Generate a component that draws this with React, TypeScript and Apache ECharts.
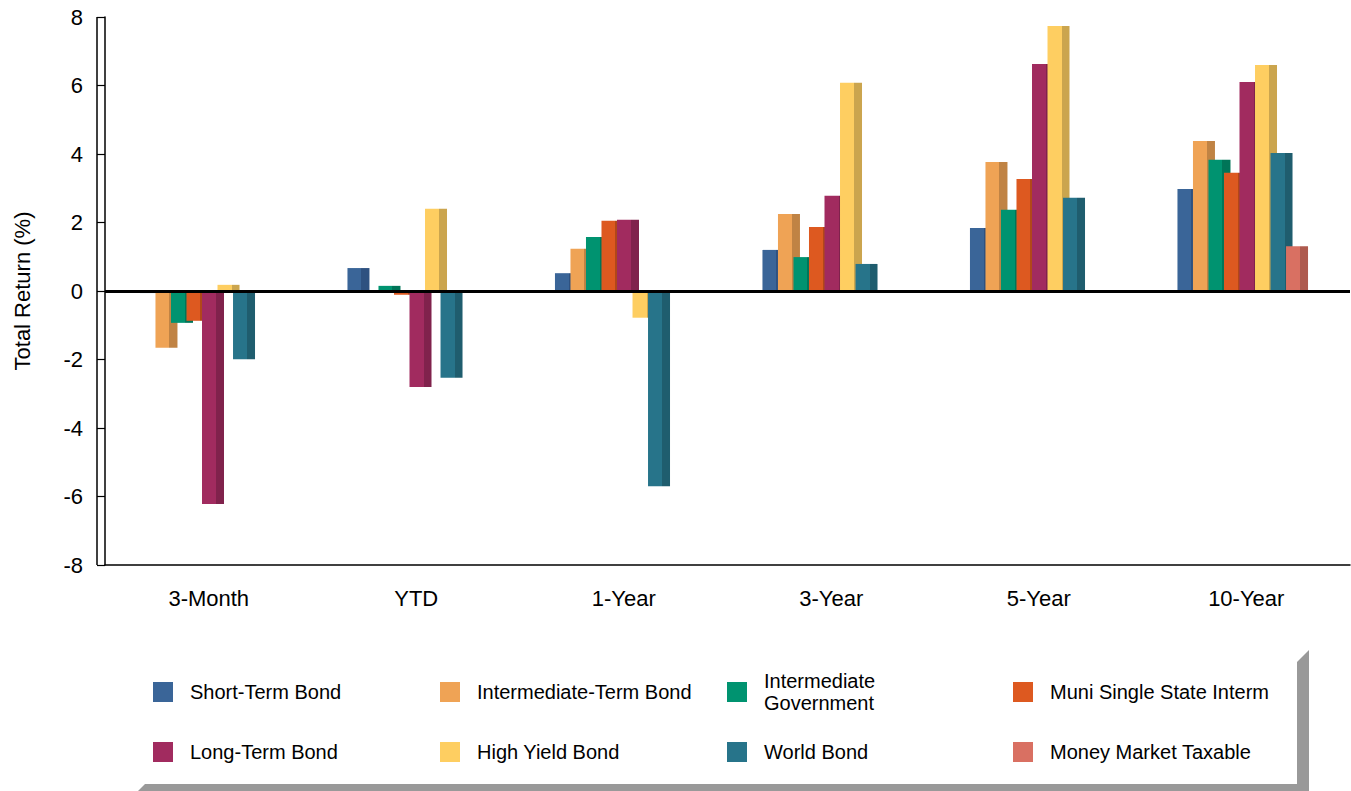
import React, { useEffect, useRef } from 'react';
import * as echarts from 'echarts';

const categories = ['3-Month', 'YTD', '1-Year', '3-Year', '5-Year', '10-Year'];
const yTicks = { min: -8, max: 8, interval: 2 };

const shortTerm = [-0.06, 0.67, 0.52, 1.2, 1.84, 2.98];
const intermediateTerm = [-1.66, -0.04, 1.23, 2.25, 3.77, 4.38];
const intermediateGov = [-0.93, 0.15, 1.58, 0.99, 2.37, 3.83];
const muniSingleState = [-0.87, -0.11, 2.05, 1.87, 3.27, 3.45];
const longTerm = [-6.22, -2.8, 2.08, 2.78, 6.63, 6.1];
const highYield = [0.18, 2.4, -0.78, 6.08, 7.74, 6.6];
const worldBond = [-1.99, -2.53, -5.7, 0.79, 2.72, 4.03];
const moneyMarket = [null, null, null, null, null, 1.31];

const seriesNames = [
  'Short-Term Bond',
  'Intermediate-Term Bond',
  'Intermediate Government',
  'Muni Single State Interm',
  'Long-Term Bond',
  'High Yield Bond',
  'World Bond',
  'Money Market Taxable',
];
const frontColors = ['#3A6598', '#EFA355', '#009370', '#DD5920', '#A12B5F', '#FECE61', '#27748A', '#D97062'];
const sideColors = ['#2E5180', '#C08344', '#007558', '#B14719', '#80224C', '#CBA54E', '#1F5D6E', '#AE5A4E'];

export default function App() {
  const ref = useRef<HTMLDivElement>(null);
  useEffect(() => {
    const chart = echarts.init(ref.current as HTMLDivElement, null, { renderer: 'svg' });
    const values = [shortTerm, intermediateTerm, intermediateGov, muniSingleState, longTerm, highYield, worldBond, moneyMarket];
    const font = 'Arial, "Liberation Sans", sans-serif';
    const legendPos = [
      [153, 681], [440, 681], [727, 670], [1013, 681],
      [153, 741], [440, 741], [727, 741], [1013, 741],
    ];
    const f = 14 / 22;
    const barSeries: any[] = seriesNames.map((name, i) => ({
      name,
      type: 'bar',
      data: values[i],
      barWidth: 22,
      barGap: '-29.5%',
      itemStyle: {
        color: new echarts.graphic.LinearGradient(0, 0, 1, 0, [
          { offset: 0, color: frontColors[i] },
          { offset: f, color: frontColors[i] },
          { offset: f, color: sideColors[i] },
          { offset: 1, color: sideColors[i] },
        ]),
      },
      ...(i === seriesNames.length - 1
        ? {
            markLine: {
              silent: true,
              symbol: 'none',
              label: { show: false },
              lineStyle: { color: '#000', width: 3, type: 'solid' },
              data: [{ yAxis: 0 }],
            },
          }
        : {}),
    }));
    // empty spacer column: keeps the bar cluster slightly left of the category centre, as in the original
    barSeries.push({
      name: 'spacer',
      type: 'bar',
      data: categories.map(() => null),
      barWidth: 13.5,
      barGap: '-29.5%',
      silent: true,
    });
    chart.setOption({
      animation: false,
      textStyle: { fontFamily: font },
      grid: { left: 105, right: 1, top: 17, bottom: 226, containLabel: false },
      xAxis: {
        type: 'category',
        data: categories,
        axisLine: { show: true, onZero: false, lineStyle: { color: '#000', width: 1.5 } },
        axisTick: { show: false },
        axisLabel: { fontSize: 22, color: '#000', margin: 22, fontFamily: font },
        splitLine: { show: false },
      },
      yAxis: {
        type: 'value',
        min: yTicks.min,
        max: yTicks.max,
        interval: yTicks.interval,
        name: 'Total Return (%)',
        nameLocation: 'middle',
        nameGap: 72,
        nameTextStyle: { fontSize: 22, color: '#000', fontFamily: font },
        axisLine: { show: true, lineStyle: { color: '#000', width: 1.5 } },
        axisTick: { show: true, length: 8, lineStyle: { color: '#000', width: 1.2 } },
        axisLabel: { fontSize: 22, color: '#000', margin: 22, fontFamily: font },
        splitLine: {
          show: true,
          lineStyle: { color: '#000', width: 1.2, shadowColor: '#999', shadowOffsetY: 1.5, shadowBlur: 0 },
        },
      },
      legend: seriesNames.map((name, i) => ({
        left: legendPos[i][0],
        top: legendPos[i][1],
        padding: 0,
        itemWidth: 20,
        itemHeight: 20,
        icon: 'rect',
        selectedMode: false,
        data: [{ name, itemStyle: { color: frontColors[i] } }],
        formatter: (n: string) => (n === 'Intermediate Government' ? 'Intermediate\nGovernment' : n),
        textStyle: { fontSize: 20, color: '#000', fontFamily: font, padding: [0, 0, 0, 12], lineHeight: 22 },
      })),
      series: barSeries,
      graphic: [
        { type: 'line', shape: { x1: 97, y1: 17, x2: 97, y2: 565 }, style: { stroke: '#000', lineWidth: 1.5 } },
        {
          type: 'polygon',
          shape: { points: [[1297, 662], [1309, 650], [1309, 791], [1297, 791]] },
          style: { fill: '#999' },
        },
        {
          type: 'polygon',
          shape: { points: [[145, 784], [1297, 784], [1297, 791], [138, 791]] },
          style: { fill: '#999' },
        },
      ],
    });
    return () => chart.dispose();
  }, []);
  return <div ref={ref} style={{ position: 'absolute', left: 0, top: 0, width: 1351, height: 791 }} />;
}
